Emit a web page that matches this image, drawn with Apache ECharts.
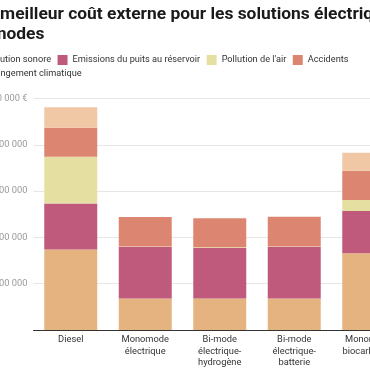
<!DOCTYPE html>
<html>
<head>
<meta charset="utf-8">
<script src="https://cdn.jsdelivr.net/npm/echarts@6/dist/echarts.min.js"></script>
<style>
html,body{margin:0;padding:0;width:370px;height:370px;overflow:hidden;background:#fff;}
#c{position:absolute;left:-60px;top:0;width:480px;height:370px;}
</style>
</head>
<body>
<div id="c"></div>
<script>
const categories = ['Diesel', 'Monomode\nélectrique', 'Bi-mode\nélectrique-\nhydrogène', 'Bi-mode\nélectrique-\nbatterie', 'Monomode\nbiocarburant'];
const changementClimatique = [174000, 68000, 68000, 68000, 166000];
const emissionsPuits = [99000, 111000, 109000, 111000, 91000];
const pollutionAir = [101000, 1500, 1500, 1500, 24000];
const accidents = [63000, 63500, 63000, 64000, 63000];
const pollutionSonore = [44000, 0, 0, 0, 39000];
const yTicks = [0, 100000, 200000, 300000, 400000, 500000];
const yTickLabels = ['', '100 000', '200 000', '300 000', '400 000', '500 000 €'];

const colors = {
  'Pollution sonore': '#f0c8a6',
  'Emissions du puits au réservoir': '#bf5a7d',
  "Pollution de l'air": '#e5e0a2',
  'Accidents': '#dc8672',
  'Changement climatique': '#e5b380'
};
const FONT = 'Roboto, "Noto Sans", sans-serif';
const chart = echarts.init(document.getElementById('c'), null, {renderer: 'canvas'});
function mk(name, data) {
  return {name: name, type: 'bar', stack: 't', data: data, barWidth: 53,
    itemStyle: {color: colors[name]}, emphasis: {disabled: true}};
}
chart.setOption({
  animation: false,
  backgroundColor: '#fff',
  title: {
    text: 'Le meilleur coût externe pour les solutions électriques\nbimodes',
    left: 37, top: 5, padding: 0,
    textStyle: {fontFamily: FONT, fontWeight: 'bold', fontSize: 17.4, lineHeight: 20, color: '#1a1a1a'}
  },
  legend: [
    {data: ['Pollution sonore', 'Emissions du puits au réservoir', "Pollution de l'air", 'Accidents'],
     left: 29.5, top: 55, padding: 0, itemWidth: 10, itemHeight: 10, itemGap: 6.5, icon: 'rect',
     textStyle: {fontFamily: FONT, fontSize: 9.2, color: '#333'}},
    {data: ['Changement climatique'],
     left: 29.5, top: 68.5, padding: 0, itemWidth: 10, itemHeight: 10, itemGap: 6.5, icon: 'rect',
     textStyle: {fontFamily: FONT, fontSize: 9.2, color: '#333'}}
  ],
  grid: {left: 93.5, right: 14, top: 98.5, bottom: 40, containLabel: false},
  xAxis: {
    type: 'category', data: categories,
    axisLine: {lineStyle: {color: '#333', width: 1}},
    axisTick: {show: false},
    axisLabel: {fontFamily: FONT, fontSize: 9.3, lineHeight: 11.5, color: '#333', margin: 4, interval: 0}
  },
  yAxis: {
    type: 'value', min: 0, max: 500000, interval: 100000,
    axisLine: {show: false}, axisTick: {show: false},
    splitLine: {lineStyle: {color: '#e6e6e6', width: 1}},
    axisLabel: {fontFamily: FONT, fontSize: 9.3, color: '#999', margin: 6,
      formatter: function (v) { const i = yTicks.indexOf(v); return i >= 0 ? yTickLabels[i] : ''; }}
  },
  series: [
    mk('Changement climatique', changementClimatique),
    mk('Emissions du puits au réservoir', emissionsPuits),
    mk("Pollution de l'air", pollutionAir),
    mk('Accidents', accidents),
    mk('Pollution sonore', pollutionSonore)
  ]
});
</script>
</body>
</html>
